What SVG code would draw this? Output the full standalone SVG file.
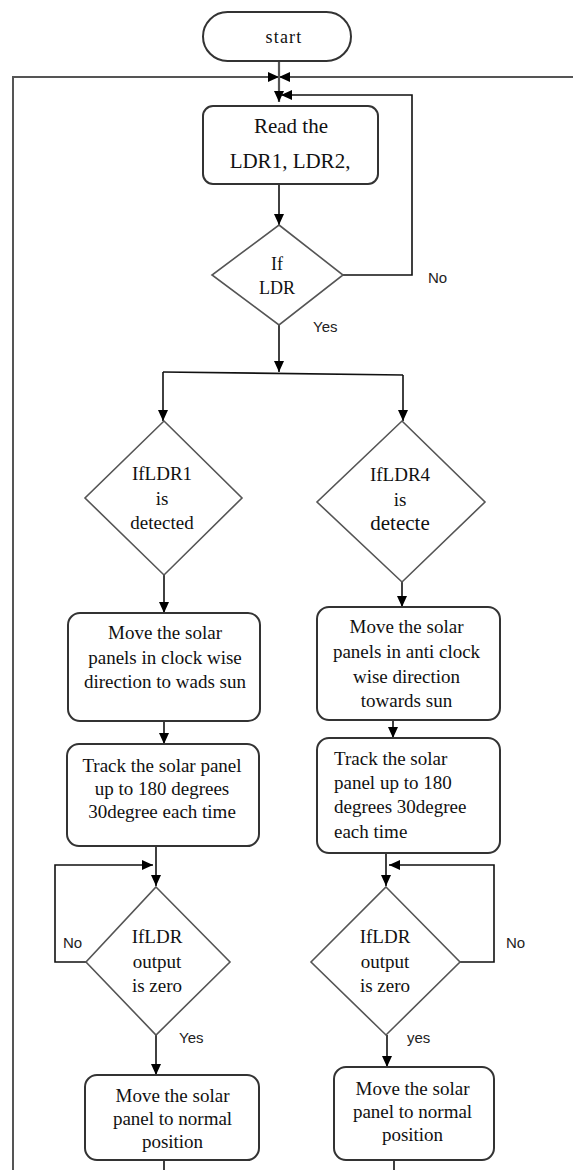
<svg xmlns="http://www.w3.org/2000/svg" width="573" height="1170" viewBox="0 0 573 1170">
<defs>
<marker id="ah" markerUnits="userSpaceOnUse" markerWidth="11" markerHeight="10" refX="11" refY="5" orient="auto">
<path d="M0,0 L11,5 L0,10 z" fill="#000"/>
</marker>
<style>
.box{fill:#fff;stroke:#333;stroke-width:2}
.dia{fill:#fff;stroke:#555;stroke-width:1.6}
.ln{fill:none;stroke:#111;stroke-width:1.6}
.outer{fill:none;stroke:#555;stroke-width:2}
.t{font-family:"Liberation Serif","Times New Roman",serif;font-size:19px;fill:#111;text-anchor:middle}
.tl{font-family:"Liberation Serif","Times New Roman",serif;font-size:19px;fill:#111}
.lbl{font-family:"Liberation Sans",Arial,sans-serif;font-size:15px;fill:#222}
</style>
</defs>
<rect width="573" height="1170" fill="#fff"/>
<g id="connectors">
<path class="outer" d="M13,1170 L13,77 L279,77" marker-end="url(#ah)"/>
<path class="outer" d="M573,77 L279,77" marker-end="url(#ah)"/>
<path class="ln" d="M279,61 L279,102" marker-end="url(#ah)" style="stroke:#555;stroke-width:2.2"/>
<path class="ln" d="M343,275 L412,275 L412,95 L281,95" marker-end="url(#ah)"/>
<path class="ln" d="M279,184 L279,225" marker-end="url(#ah)"/>
<path class="ln" d="M279,325 L279,372" marker-end="url(#ah)"/>
<path class="ln" d="M163,372 L403,375"/>
<path class="ln" d="M163,372 L163,421" marker-end="url(#ah)"/>
<path class="ln" d="M403,375 L403,421" marker-end="url(#ah)"/>
<path class="ln" d="M164,575 L164,613" marker-end="url(#ah)"/>
<path class="ln" d="M402,582 L402,607" marker-end="url(#ah)"/>
<path class="ln" d="M164,721 L164,744" marker-end="url(#ah)"/>
<path class="ln" d="M393,720 L393,738" marker-end="url(#ah)"/>
<path class="ln" d="M156,846 L156,886" marker-end="url(#ah)"/>
<path class="ln" d="M386,853 L386,886" marker-end="url(#ah)"/>
<path class="ln" d="M86,962 L55,962 L55,865 L153,865" marker-end="url(#ah)"/>
<path class="ln" d="M460,962 L494,962 L494,865 L389,865" marker-end="url(#ah)"/>
<path class="ln" d="M156,1035 L156,1075" marker-end="url(#ah)"/>
<path class="ln" d="M387,1035 L387,1067" marker-end="url(#ah)"/>
<path class="ln" d="M164,1160 L164,1170"/>
<path class="ln" d="M394,1160 L394,1170"/>
</g>
<g id="labels">
<text class="lbl" x="428" y="283">No</text>
<text class="lbl" x="313" y="332">Yes</text>
<text class="lbl" x="63" y="948">No</text>
<text class="lbl" x="179" y="1043">Yes</text>
<text class="lbl" x="506" y="948">No</text>
<text class="lbl" x="407" y="1043">yes</text>
</g>
<g id="start">
<rect class="box" x="203" y="12" width="148" height="49" rx="24.5"/>
<text class="t" x="284" y="43" style="font-size:18px;letter-spacing:1.2px">start</text>
</g>
<g id="read">
<rect class="box" x="203" y="106" width="175" height="78" rx="10"/>
<text class="t" x="291" y="133" style="font-size:21px">Read the</text>
<text class="t" x="290" y="168" style="font-size:21px">LDR1, LDR2,</text>
</g>
<g id="ifldr">
<polygon class="dia" points="279,225 343,275 279,325 212,275"/>
<text class="t" x="277" y="270" style="font-size:18px">If</text>
<text class="t" x="277" y="294" style="font-size:18px">LDR</text>
</g>
<g id="ifldr1">
<polygon class="dia" points="164,421 242,498 164,575 85,498"/>
<text class="t" x="162" y="480">IfLDR1</text>
<text class="t" x="162" y="505">is</text>
<text class="t" x="162" y="529">detected</text>
</g>
<g id="ifldr4">
<polygon class="dia" points="402,421 485,502 402,582 317,502"/>
<text class="t" x="400" y="481">IfLDR4</text>
<text class="t" x="400" y="506">is</text>
<text class="t" x="400" y="530" style="font-size:21px">detecte</text>
</g>
<g id="move-cw">
<rect class="box" x="68" y="613" width="192" height="108" rx="12"/>
<text class="t" x="165" y="639">Move the solar</text>
<text class="t" x="165" y="664">panels in clock wise</text>
<text class="t" x="165" y="688">direction to wads sun</text>
</g>
<g id="move-acw">
<rect class="box" x="317" y="607" width="183" height="113" rx="12"/>
<text class="t" x="406.5" y="633">Move the solar</text>
<text class="t" x="406.5" y="658">panels in anti clock</text>
<text class="t" x="406.5" y="683">wise direction</text>
<text class="t" x="406.5" y="707">towards sun</text>
</g>
<g id="track-left">
<rect class="box" x="67" y="744" width="192" height="102" rx="12"/>
<text class="t" x="162" y="772">Track the solar panel</text>
<text class="t" x="162" y="795">up to 180 degrees</text>
<text class="t" x="162" y="818">30degree each time</text>
</g>
<g id="track-right">
<rect class="box" x="317" y="738" width="183" height="115" rx="12"/>
<text class="tl" x="334" y="765">Track the solar</text>
<text class="tl" x="334" y="789">panel up to 180</text>
<text class="tl" x="334" y="813">degrees 30degree</text>
<text class="tl" x="334" y="838">each time</text>
</g>
<g id="zero-left">
<polygon class="dia" points="156,887 230,962 156,1035 86,962"/>
<text class="t" x="157" y="943">IfLDR</text>
<text class="t" x="157" y="968">output</text>
<text class="t" x="157" y="992">is zero</text>
</g>
<g id="zero-right">
<polygon class="dia" points="386,887 460,962 386,1035 311,962"/>
<text class="t" x="385" y="943">IfLDR</text>
<text class="t" x="385" y="968">output</text>
<text class="t" x="385" y="992">is zero</text>
</g>
<g id="normal-left">
<rect class="box" x="85" y="1075" width="174" height="85" rx="12"/>
<text class="t" x="172.5" y="1102">Move the solar</text>
<text class="t" x="172.5" y="1125">panel to normal</text>
<text class="t" x="172.5" y="1148">position</text>
</g>
<g id="normal-right">
<rect class="box" x="334" y="1067" width="160" height="93" rx="12"/>
<text class="t" x="412.5" y="1095">Move the solar</text>
<text class="t" x="412.5" y="1118">panel to normal</text>
<text class="t" x="412.5" y="1141">position</text>
</g>
</svg>
